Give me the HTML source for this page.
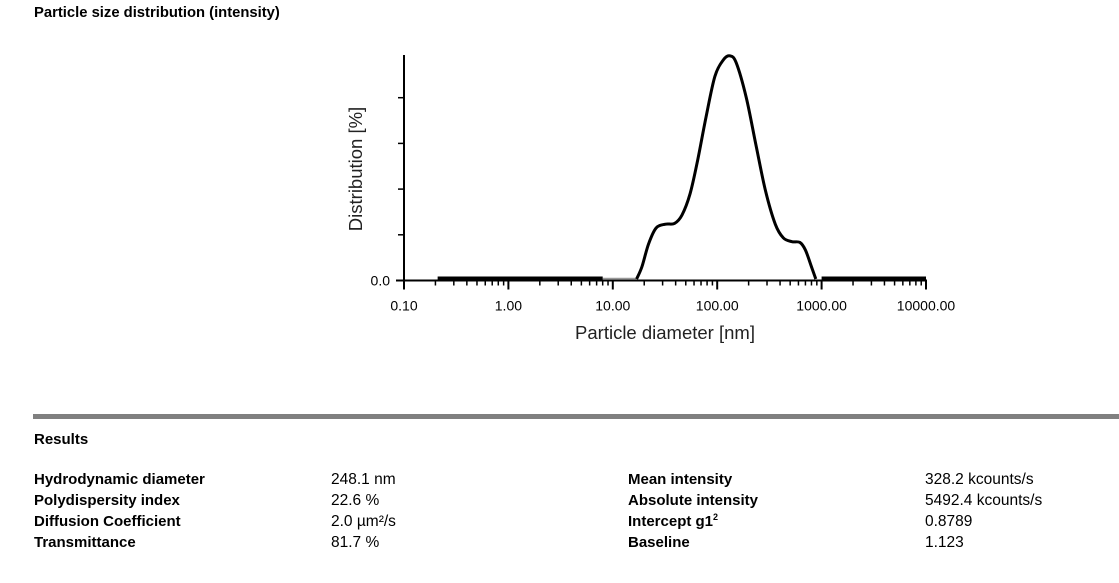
<!DOCTYPE html>
<html><head><meta charset="utf-8"><style>
body{margin:0;width:1119px;height:583px;background:#fff;font-family:"Liberation Sans",sans-serif;position:relative;overflow:hidden}
.t{position:absolute;font-size:15.5px;color:#000;white-space:nowrap}
.b{font-weight:bold;font-size:15px}
</style></head><body>
<div class="t b" style="left:34px;top:5px;font-size:14.8px">Particle size distribution (intensity)</div>
<svg id="chart" width="1119" height="400" style="position:absolute;left:0;top:0"></svg>
<div style="position:absolute;left:33px;top:414px;width:1086px;height:5px;background:#808080"></div>
<div class="t b" style="left:34px;top:431px">Results</div>
<div class="t b" style="left:34px;top:471px">Hydrodynamic diameter</div>
<div class="t b" style="left:34px;top:492px">Polydispersity index</div>
<div class="t b" style="left:34px;top:513px">Diffusion Coefficient</div>
<div class="t b" style="left:34px;top:534px">Transmittance</div>
<div class="t" style="left:331px;top:471px">248.1 nm</div>
<div class="t" style="left:331px;top:492px">22.6 %</div>
<div class="t" style="left:331px;top:513px">2.0 µm²/s</div>
<div class="t" style="left:331px;top:534px">81.7 %</div>
<div class="t b" style="left:628px;top:471px">Mean intensity</div>
<div class="t b" style="left:628px;top:492px">Absolute intensity</div>
<div class="t b" style="left:628px;top:513px">Intercept g1<sup style="font-size:9px;line-height:0">2</sup></div>
<div class="t b" style="left:628px;top:534px">Baseline</div>
<div class="t" style="left:925px;top:471px">328.2 kcounts/s</div>
<div class="t" style="left:925px;top:492px">5492.4 kcounts/s</div>
<div class="t" style="left:925px;top:513px">0.8789</div>
<div class="t" style="left:925px;top:534px">1.123</div>
<script>
const diameters=[16.9,19,22,26,32,39,46,55,65,78,95,115,132,152,190,235,290,360,430,520,620,700,800,880];
const distribution=[0,0.8,2.3,3.35,3.6,3.65,4.2,5.6,7.8,10.6,13.3,14.4,14.65,14.2,11.9,8.8,5.8,3.6,2.7,2.45,2.4,1.9,0.8,0];
const xTickValues=[0.1,1,10,100,1000,10000];
const xTickLabels=["0.10","1.00","10.00","100.00","1000.00","10000.00"];
const yTickValues=[0,3,6,9,12];
const baselineRanges=[[0.21,8],[1000,10000]];
const NS="http://www.w3.org/2000/svg";
const svg=document.getElementById('chart');
const X0=404,X1=926,Y0=280.5,PX_PER_UNIT=45.7/3;
const xs=v=>X0+(Math.log10(v)+1)/5*(X1-X0);
const ys=v=>Y0-v*PX_PER_UNIT;
function mk(t,a){const e=document.createElementNS(NS,t);for(const k in a)e.setAttribute(k,a[k]);svg.appendChild(e);return e;}
let e=mk('line',{x1:X0,y1:55,x2:X0,y2:Y0,stroke:'#000','stroke-width':2});


e=mk('line',{x1:X0-8,y1:Y0,x2:X1+1,y2:Y0,stroke:'#000','stroke-width':2});


yTickValues.forEach(v=>{const t=mk('line',{x1:X0-6,x2:X0,y1:ys(v),y2:ys(v),stroke:'#000','stroke-width':1.5});

});
const yl=mk('text',{x:X0-14,y:Y0+5,'text-anchor':'end','font-size':14,'font-family':'Liberation Sans'});yl.textContent='0.0';


xTickValues.forEach((v,i)=>{const x=xs(v);
const t=mk('line',{x1:x,x2:x,y1:Y0,y2:Y0+9,stroke:'#000','stroke-width':2});


const l=mk('text',{x:x,y:Y0+30,'text-anchor':'middle','font-size':14,'font-family':'Liberation Sans'});l.textContent=xTickLabels[i];


if(i<xTickValues.length-1)for(let m=2;m<10;m++){const xm=xs(v*m);const mt=mk('line',{x1:xm,x2:xm,y1:Y0,y2:Y0+5,stroke:'#000','stroke-width':1.5});

}});
const xt=mk('text',{x:665,y:339,'text-anchor':'middle','font-size':18.5,fill:'#222','font-family':'Liberation Sans'});xt.textContent='Particle diameter [nm]';


const yt=mk('text',{x:0,y:0,'text-anchor':'middle','font-size':18.5,fill:'#222','font-family':'Liberation Sans',transform:'translate(362,169) rotate(-90)'});yt.textContent='Distribution [%]';


const g=mk('line',{x1:xs(8),x2:xs(diameters[0]),y1:Y0-2,y2:Y0-2,stroke:'#999','stroke-width':1.5});


baselineRanges.forEach(r=>{const b=mk('line',{x1:xs(r[0]),x2:xs(r[1]),y1:Y0-2.5,y2:Y0-2.5,stroke:'#000','stroke-width':3});

});
const P=diameters.map((d,i)=>[xs(d),ys(distribution[i])-1.5]);
let d='M'+P[0][0]+','+P[0][1];
for(let i=0;i<P.length-1;i++){const p0=P[Math.max(0,i-1)],p1=P[i],p2=P[i+1],p3=P[Math.min(P.length-1,i+2)];
d+=` C${p1[0]+(p2[0]-p0[0])/6},${p1[1]+(p2[1]-p0[1])/6} ${p2[0]-(p3[0]-p1[0])/6},${p2[1]-(p3[1]-p1[1])/6} ${p2[0]},${p2[1]}`;}
const c=mk('path',{d:d,fill:'none',stroke:'#000','stroke-width':3,'stroke-linejoin':'round'});


</script>
</body></html>
